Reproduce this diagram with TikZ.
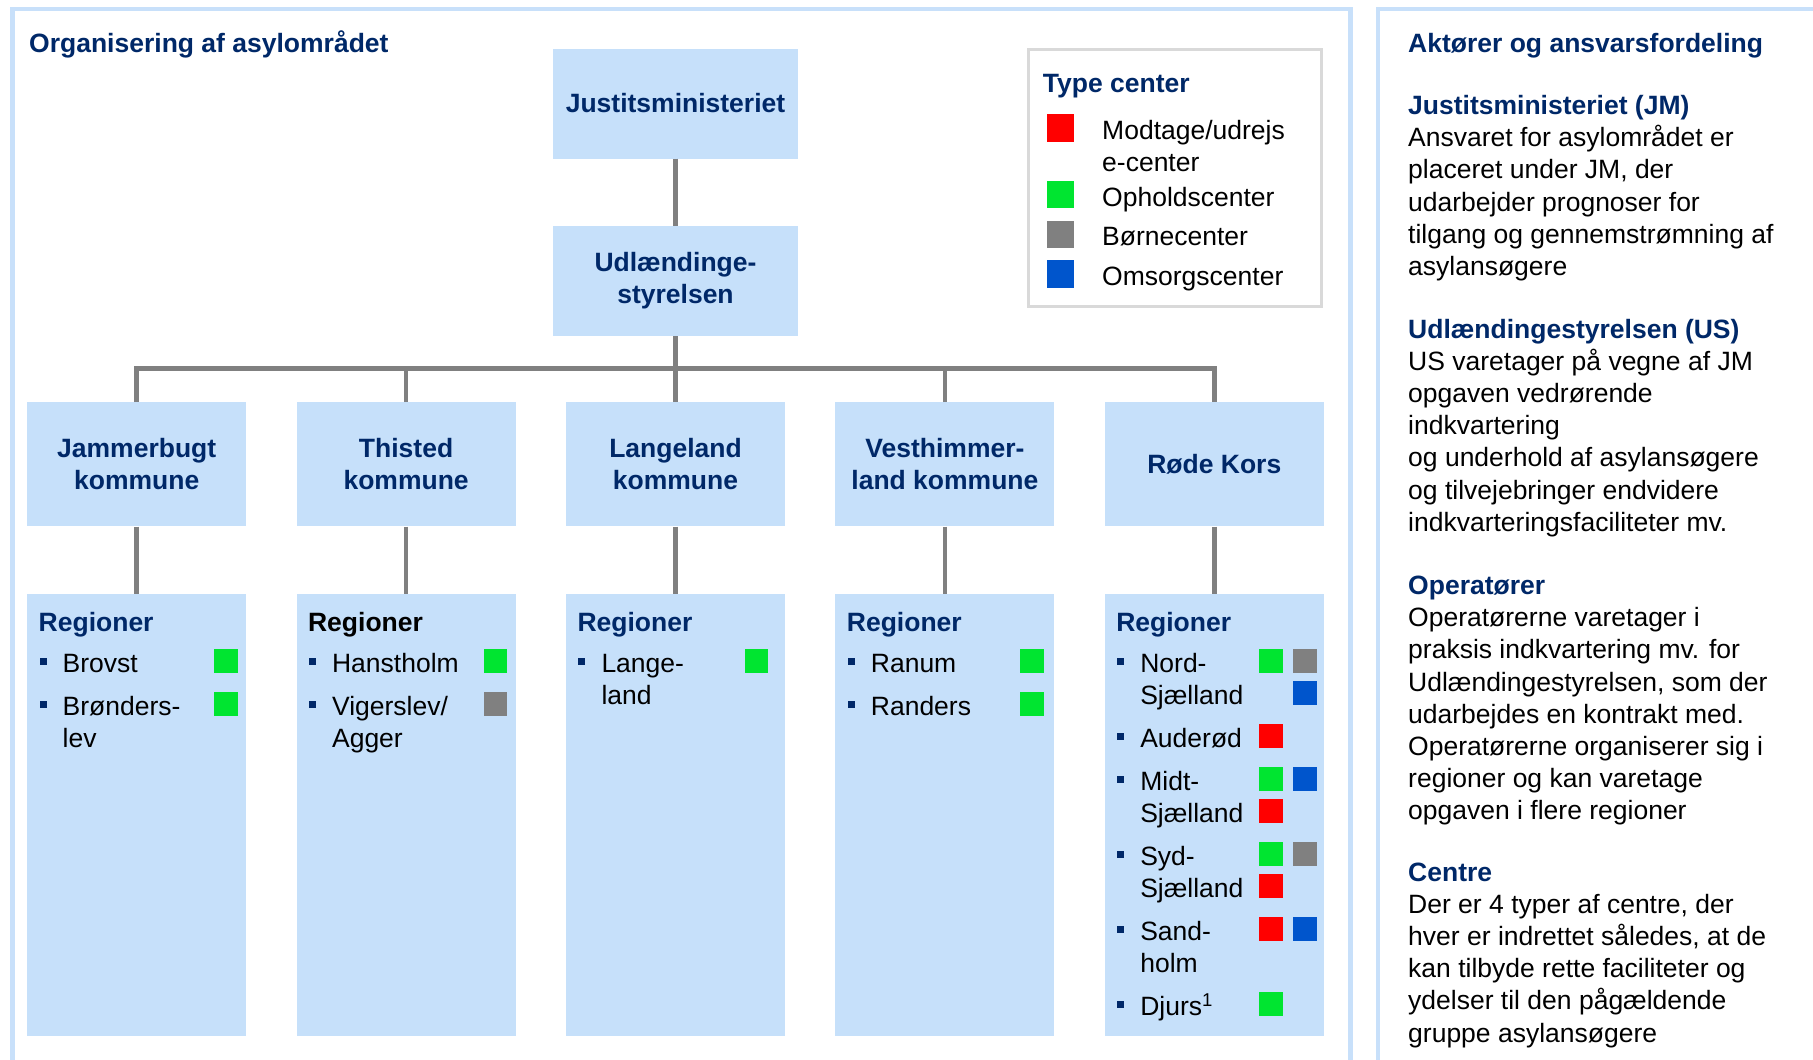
\documentclass[tikz,border=0pt]{standalone}
\usepackage{fontspec}
\setmainfont{Liberation Sans}
\usetikzlibrary{positioning, calc}

\definecolor{navy}{RGB}{0,40,104}
\definecolor{boxblue}{RGB}{198,224,250}
\definecolor{frameblue}{RGB}{200,224,250}
\definecolor{connGray}{RGB}{128,128,128}
\definecolor{legGray}{RGB}{217,217,217}
\definecolor{cRed}{RGB}{255,0,0}
\definecolor{cGreen}{RGB}{0,229,48}
\definecolor{cGray}{RGB}{128,128,128}
\definecolor{cBlue}{RGB}{0,85,204}

\newcommand{\txtfont}{\fontsize{26.5}{32}\selectfont}
% left aligned lines, baseline on the first line
\newcommand{\stack}[1]{\vtop{\halign{##\hfil\cr#1\crcr}}}

\tikzset{
    orgbox/.style={fill=boxblue, align=center, text=navy, font=\txtfont\bfseries, minimum width=219pt, minimum height=124pt, inner sep=0pt},
    topbox/.style={orgbox, minimum width=245pt, minimum height=110pt},
    regbox/.style={fill=boxblue, minimum width=219pt, minimum height=442pt, inner sep=0pt},
    regtitle/.style={text=navy, font=\txtfont\bfseries, inner sep=0pt, anchor=base west},
    itemtxt/.style={font=\txtfont, inner sep=0pt, anchor=base west},
    bulletsq/.style={fill=navy, minimum size=7pt, inner sep=0pt},
    csq/.style={minimum size=23.5pt, inner sep=0pt},
    legsq/.style={minimum width=27pt, minimum height=27.5pt, inner sep=0pt},
    conn/.style={draw=connGray, line width=4.5pt},
    frame/.style={draw=frameblue, line width=4.5pt},
    hdr/.style={text=navy, font=\txtfont\bfseries, inner sep=0pt, anchor=base west},
    bodytxt/.style={font=\fontsize{26.5}{32.2}\selectfont, inner sep=0pt, anchor=base west}
}

% one region line: name, box, offset from box top, text, squares (dx/line/colour)
\newcommand{\regitem}[5]{%
    \node[itemtxt] (#1) at ($(#2.north west)+(35.5,#3)$) {\stack{#4}};
    \node[bulletsq] (#1-b) at ($(#1.base west)+(-19.5,-10.7)$) {};
    \foreach \dx/\ln/\clr in {#5} {
        \node[csq, fill=\clr] (#1-\ln-\clr) at ($(#2.north east)+(\dx,{#3-11.5+32*\ln})$) {};
    }%
}

\begin{document}
\begin{tikzpicture}[x=1pt, y=-1pt]
    \useasboundingbox (0,0) rectangle (1813,1060);

    % panels
    \draw[frame] (12.5,1060) -- (12.5,9) -- (1350.5,9) -- (1350.5,1060);
    \draw[frame] (1813,9) -- (1378,9) -- (1378,1060);
    \node[hdr] (orgtitle) at (29,52.5) {Organisering af asylområdet};

    % tree
    \node[topbox] (jm) at (675.5,103.5) {Justitsministeriet};
    \node[topbox, below=67pt of jm] (us) {Udlændinge-\\styrelsen};
    \node[orgbox, below=66pt of us] (k3) {Langeland\\kommune};
    \node[orgbox, left=50pt of k3] (k2) {Thisted\\kommune};
    \node[orgbox, left=50pt of k2] (k1) {Jammerbugt\\kommune};
    \node[orgbox, right=50pt of k3] (k4) {Vesthimmer-\\land kommune};
    \node[orgbox, right=50pt of k4] (k5) {Røde Kors};
    \foreach \i in {1,...,5}
        \node[regbox, below=67pt of k\i] (r\i) {};

    \coordinate (bus) at (675.5,368.3);
    \draw[conn] (jm) -- (us);
    \draw[conn] (us) -- (bus);
    \draw[conn] (k1.north) -- (k1.north |- bus) -- (k5.north |- bus) -- (k5.north);
    \foreach \i in {2,3,4}
        \draw[conn] (k\i.north) -- (k\i.north |- bus);
    \foreach \i in {1,...,5}
        \draw[conn] (k\i) -- (r\i);

    % regions
    \foreach \i in {1,3,4,5}
        \node[regtitle] (t\i) at ($(r\i.north west)+(11.5,38)$) {Regioner};
    \node[regtitle, text=black] (t2) at ($(r2.north west)+(11.5,38)$) {Regioner};

    \regitem{brovst}{r1}{79}{Brovst}{-20.4/0/cGreen}
    \regitem{bronderslev}{r1}{122}{Brønders-\cr lev}{-20.4/0/cGreen}
    \regitem{hanstholm}{r2}{79}{Hanstholm}{-20.5/0/cGreen}
    \regitem{vigerslev}{r2}{122}{Vigerslev/\cr Agger}{-20.5/0/cGray}
    \regitem{langeland}{r3}{79}{Lange-\cr land}{-28.5/0/cGreen}
    \regitem{ranum}{r4}{79}{Ranum}{-22.5/0/cGreen}
    \regitem{randers}{r4}{122}{Randers}{-22.5/0/cGreen}
    \regitem{nord}{r5}{79}{Nord-\cr Sjælland}{-53/0/cGreen, -19/0/cGray, -19/1/cBlue}
    \regitem{auderod}{r5}{154}{Auderød}{-53/0/cRed}
    \regitem{midt}{r5}{197}{Midt-\cr Sjælland}{-53/0/cGreen, -19/0/cBlue, -53/1/cRed}
    \regitem{syd}{r5}{272}{Syd-\cr Sjælland}{-53/0/cGreen, -19/0/cGray, -53/1/cRed}
    \regitem{sand}{r5}{347}{Sand-\cr holm}{-53/0/cRed, -19/0/cBlue}
    \regitem{djurs}{r5}{422}{Djurs\textsuperscript{1}}{-53/0/cGreen}

    % legend
    \node[draw=legGray, line width=2.7pt, fill=white, minimum width=292.6pt, minimum height=256.6pt, inner sep=0pt] (legend) at (1175,178) {};
    \node[hdr] (legtitle) at (1042.7,92.2) {Type center};
    \node[legsq, fill=cRed] (leg-red) at (1060.3,128) {};
    \node[legsq, fill=cGreen] (leg-green) at (1060.3,194.3) {};
    \node[legsq, fill=cGray] (leg-gray) at (1060.3,234.3) {};
    \node[legsq, fill=cBlue] (leg-blue) at (1060.3,274) {};
    \node[itemtxt] (leg-red-t) at (1102,139.5) {\stack{Modtage/udrejs\cr e-center}};
    \node[itemtxt] (leg-green-t) at (1102,206) {Opholdscenter};
    \node[itemtxt] (leg-gray-t) at (1102,245.5) {Børnecenter};
    \node[itemtxt] (leg-blue-t) at (1102,285.5) {Omsorgscenter};

    % right panel
    \node[hdr] (akt) at (1408,52.5) {Aktører og ansvarsfordeling};
    \node[bodytxt] (jmtxt) at (1408,114.5) {\stack{\textcolor{navy}{\bfseries Justitsministeriet (JM)}\cr Ansvaret for asylområdet er\cr placeret under JM, der\cr udarbejder prognoser for\cr tilgang og gennemstrømning af\cr asylansøgere}};
    \node[bodytxt] (ustxt) at (1408,338) {\stack{\textcolor{navy}{\bfseries Udlændingestyrelsen (US)}\cr US varetager på vegne af JM\cr opgaven vedrørende\cr indkvartering\cr og underhold af asylansøgere\cr og tilvejebringer endvidere\cr indkvarteringsfaciliteter mv.}};
    \node[bodytxt] (optxt) at (1408,594.5) {\stack{\textcolor{navy}{\bfseries Operatører}\cr Operatørerne varetager i\cr praksis indkvartering mv. for\cr Udlændingestyrelsen, som der\cr udarbejdes en kontrakt med.\cr Operatørerne organiserer sig i\cr regioner og kan varetage\cr opgaven i flere regioner}};
    \node[bodytxt] (ctrtxt) at (1408,881) {\stack{\textcolor{navy}{\bfseries Centre}\cr Der er 4 typer af centre, der\cr hver er indrettet således, at de\cr kan tilbyde rette faciliteter og\cr ydelser til den pågældende\cr gruppe asylansøgere}};
\end{tikzpicture}
\end{document}
